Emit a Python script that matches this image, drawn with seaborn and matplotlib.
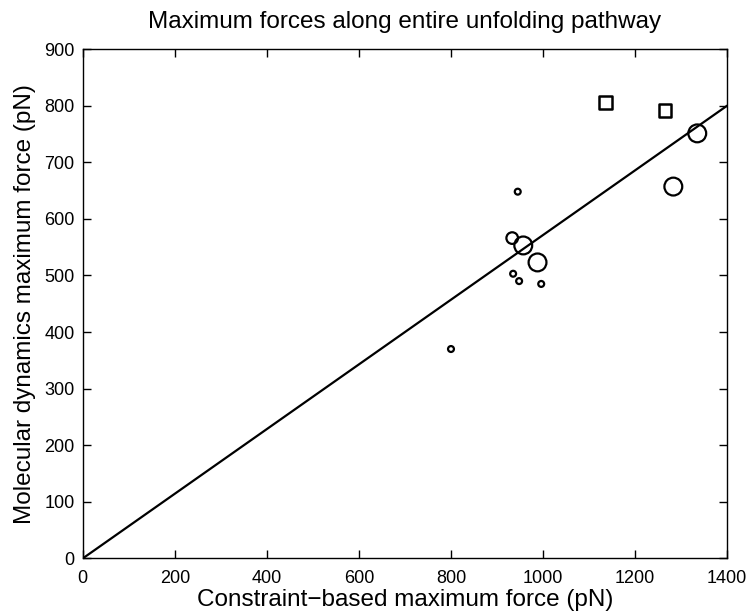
import matplotlib
matplotlib.use("Agg")
import matplotlib.pyplot as plt
import seaborn as sns
import pandas as pd

# Constraint-based vs molecular dynamics maximum forces (pN)
circle_x = [800, 933, 935, 948, 996, 945, 957, 988, 1283, 1335]
circle_y = [370, 566, 503, 490, 485, 648, 553, 523, 657, 751]
circle_size = ["small", "medium", "small", "small", "small", "small", "large", "large", "large", "large"]

square_x = [1135, 1265]
square_y = [805, 791]

fit_x = [0, 1400]
fit_y = [0, 800]

sns.set_theme(style="white")
plt.rcParams["font.family"] = ["Liberation Sans", "DejaVu Sans"]
plt.rcParams["text.color"] = "black"
plt.rcParams["axes.labelcolor"] = "black"

fig = plt.figure(figsize=(7.52, 6.13), dpi=100)
ax = fig.add_axes([0.110, 0.089, 0.857, 0.831])

circles = pd.DataFrame({"x": circle_x, "y": circle_y, "size": circle_size})
squares = pd.DataFrame({"x": square_x, "y": square_y})
fit = pd.DataFrame({"x": fit_x, "y": fit_y})

sns.lineplot(data=fit, x="x", y="y", ax=ax, color="black", linewidth=1.6)
sns.scatterplot(data=circles, x="x", y="y", size="size",
                sizes={"small": 18, "medium": 70, "large": 165},
                marker="o", facecolor="none", edgecolor="black",
                linewidth=1.6, legend=False, ax=ax)
sns.scatterplot(data=squares, x="x", y="y", marker="s", s=85,
                facecolor="none", edgecolor="black", linewidth=1.8,
                legend=False, ax=ax)

ax.set_xlim(0, 1400)
ax.set_ylim(0, 900)
ax.set_xticks(range(0, 1401, 200))
ax.set_yticks(range(0, 901, 100))
ax.tick_params(direction="in", length=6, width=1, colors="black",
               labelsize=13, top=True, right=True, bottom=True, left=True)
ax.tick_params(axis="x", pad=8)
ax.tick_params(axis="y", pad=6)
for s in ax.spines.values():
    s.set_color("black")
    s.set_linewidth(1.0)

ax.set_xlabel("Constraint\u2212based maximum force (pN)", fontsize=17.5,
              labelpad=2, color="black")
ax.set_ylabel("Molecular dynamics maximum force (pN)", fontsize=17.5,
              labelpad=6, color="black")
ax.set_title("Maximum forces along entire unfolding pathway", fontsize=17.5,
             pad=15, color="black")

fig.savefig("out.png", dpi=100)
